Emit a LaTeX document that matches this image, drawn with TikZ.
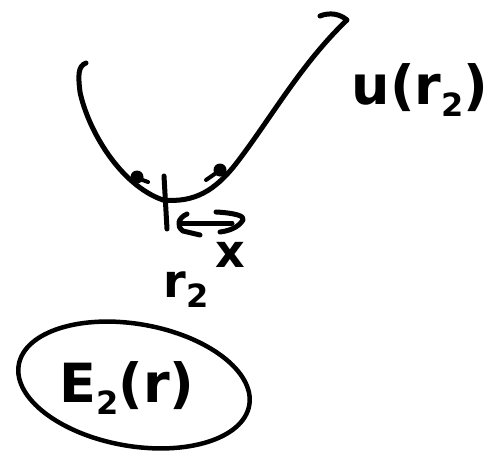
\documentclass[tikz,border=0pt]{standalone}
\usepackage{fontspec}
\setmainfont{DejaVu Sans}
\tikzset{
  pen/.style={line width=5pt, line cap=round, line join=round},
  lbl/.style={inner sep=0pt, font=\bfseries\fontsize{46}{50}\selectfont},
  biglbl/.style={inner sep=0pt, font=\bfseries\fontsize{54}{58}\selectfont},
}
\newcommand{\sbs}[1]{\raisebox{-0.4ex}{\fontsize{32}{34}\selectfont #1}}
\begin{document}
\begin{tikzpicture}[x=1pt,y=-1pt]
\useasboundingbox (0,0) rectangle (503,460);
% potential curve
\draw[pen] (86,63) .. controls (78,66) and (78,75) .. (80,92)
  .. controls (88,130) and (120,185) .. (163,200)
  .. controls (195,203) and (215,190) .. (235,165)
  .. controls (270,120) and (300,65) .. (347,20)
  .. controls (340,14) and (330,12) .. (320,16);
% dots
\fill (137,177) circle (6.5pt);
\fill (220,170) circle (6.5pt);
\draw[pen, line width=4pt] (137,178) -- (148,182);
\draw[pen, line width=4pt] (219,171) -- (206,180);
% tick at minimum
\draw[pen] (164,176) -- (167,229);
% double arrow
\draw[pen] (187,214) .. controls (178,218) and (176,226) .. (183,231) -- (200,235);
\draw[pen] (182,223) -- (232,223);
\draw[pen] (216,212) .. controls (235,213) and (245,216) .. (243,220) .. controls (238,228) and (228,231) .. (220,232);
% labels
\node[lbl] (x) at (230,255) {x};
\node[lbl] (r) at (186,290) {r\sbs{2}};
\node[biglbl] (u) at (420,90) {u(r\sbs{2})};
% ellipse
\draw[pen, line width=4.5pt] (134,385) ellipse [x radius=117, y radius=61, rotate=-10];
\node[biglbl] (E) at (127,388) {E\sbs{2}(r)};
\end{tikzpicture}
\end{document}
